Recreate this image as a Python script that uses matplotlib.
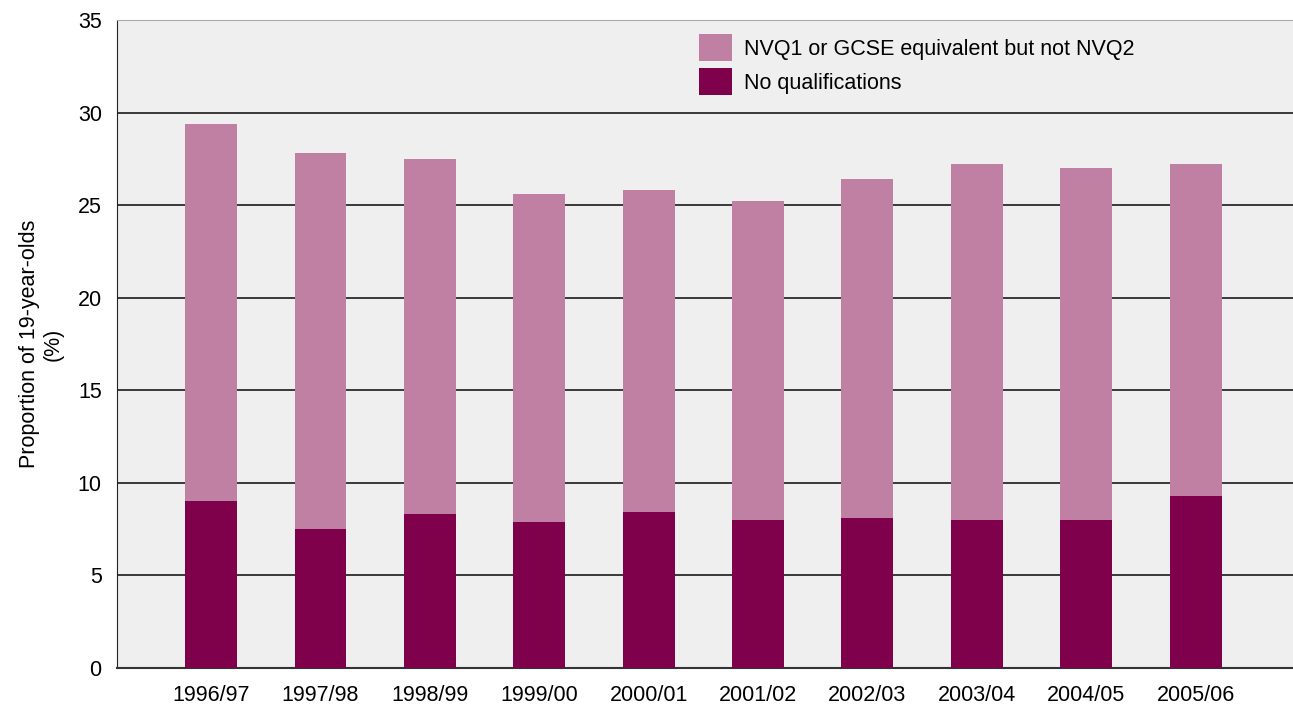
import matplotlib.pyplot as plt
import numpy as np

years = ['1996/97', '1997/98', '1998/99', '1999/00', '2000/01',
         '2001/02', '2002/03', '2003/04', '2004/05', '2005/06']
# totals, dark part is "No qualifications"
no_qual = [9.0, 7.5, 8.3, 7.9, 8.4, 8.0, 8.1, 8.0, 8.0, 9.3]
total = [29.4, 27.8, 27.5, 25.6, 25.8, 25.2, 26.4, 27.2, 27.0, 27.2]
nvq1 = [t - n for t, n in zip(total, no_qual)]

light = '#c080a4'
dark = '#7f004b'
fs = 15.5

plt.rcParams['font.family'] = ['Liberation Sans', 'DejaVu Sans']

fig = plt.figure(figsize=(12.93, 7.04), dpi=100)
ax = fig.add_axes([0.0905, 0.0511, 0.9095, 0.9205])
ax.set_facecolor('#efefef')

x = np.arange(len(years))
w = 0.475
ax.bar(x, no_qual, w, color=dark, label='No qualifications', zorder=3)
ax.bar(x, nvq1, w, bottom=no_qual, color=light,
       label='NVQ1 or GCSE equivalent but not NVQ2', zorder=3)

ax.set_xlim(-0.86, 9.89)
ax.set_ylim(0, 35)
ax.set_yticks(range(0, 36, 5))
ax.set_xticks(x)
ax.set_xticklabels(years)
ax.tick_params(axis='both', length=0, labelsize=fs)
ax.tick_params(axis='y', pad=11)
ax.tick_params(axis='x', pad=12)

for v in range(5, 35, 5):
    ax.axhline(v, color='#2a2a2a', lw=1.3, zorder=1)

ax.spines['right'].set_visible(False)
ax.spines['top'].set_color('#aaaaaa')
ax.spines['left'].set_color('#222222')
ax.spines['bottom'].set_color('#333333')
ax.spines['bottom'].set_linewidth(1.5)

ax.set_ylabel('Proportion of 19-year-olds\n(%)', fontsize=fs, labelpad=10)

h, l = ax.get_legend_handles_labels()
ax.legend(h[::-1], l[::-1], loc='upper left', bbox_to_anchor=(0.478, 1.008),
          frameon=False, fontsize=fs, handlelength=1.55, handleheight=1.56,
          labelspacing=0.33, handletextpad=0.55)

fig.savefig('out.png', dpi=100)
